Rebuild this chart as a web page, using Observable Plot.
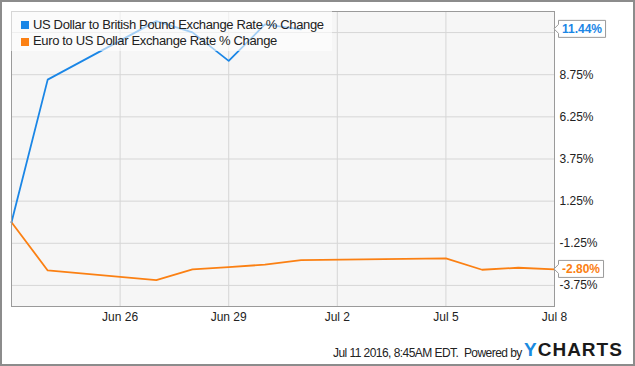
<!DOCTYPE html>
<html>
<head>
<meta charset="utf-8">
<script src="https://cdn.jsdelivr.net/npm/d3@7"></script>
<script src="https://cdn.jsdelivr.net/npm/@observablehq/plot@0.6"></script>
<style>
  html, body { margin: 0; padding: 0; background: #fff; }
  #wrap { position: relative; width: 635px; height: 366px; overflow: hidden; font-family: "Liberation Sans", Arial, sans-serif; }
  #outer { position: absolute; left: 0; top: 0; width: 635px; height: 366px; box-sizing: border-box; border: 2px solid #8c8c8c; pointer-events: none; }
  #legend { position: absolute; left: 11px; top: 11px; width: 321px; height: 40px; background: rgba(255,255,255,0.6); }
  .sw { position: absolute; width: 8px; height: 8px; }
  .lt { position: absolute; font-size: 13px; line-height: 15px; color: #222; white-space: nowrap; letter-spacing: -0.35px; }
  #footer { position: absolute; left: 333px; top: 346px; font-size: 12px; line-height: 15px; color: #222; white-space: pre; letter-spacing: -0.55px; }
  #logo { position: absolute; left: 524px; top: 339px; font-size: 19px; line-height: 22px; font-weight: bold; letter-spacing: 1px; color: #1a1a1a; white-space: nowrap; }
</style>
</head>
<body>
<div id="wrap"></div>
<script>
// ---- data ----
const seriesNames = ["US Dollar to British Pound Exchange Rate % Change", "Euro to US Dollar Exchange Rate % Change"];
const seriesColors = ["#1a86e6", "#fb8013"];
const gbpDates = ["2016-06-23", "2016-06-24", "2016-06-27", "2016-06-28", "2016-06-29", "2016-06-30", "2016-07-01"];
const gbpValues = [0, 8.46, 11.93, 11.26, 9.57, 11.73, 11.44];
const eurDates = ["2016-06-23", "2016-06-24", "2016-06-27", "2016-06-28", "2016-06-29", "2016-06-30", "2016-07-01", "2016-07-05", "2016-07-06", "2016-07-07", "2016-07-08"];
const eurValues = [0, -2.86, -3.43, -2.80, -2.66, -2.52, -2.25, -2.15, -2.82, -2.70, -2.80];
const yTicks = [-3.75, -1.25, 1.25, 3.75, 6.25, 8.75, 11.25];
const yLabelTicks = [-3.75, -1.25, 1.25, 3.75, 6.25, 8.75];
const xTickDates = ["2016-06-26", "2016-06-29", "2016-07-02", "2016-07-05", "2016-07-08"];
const xTickLabels = ["Jun 26", "Jun 29", "Jul 2", "Jul 5", "Jul 8"];
const xDomain = ["2016-06-23", "2016-07-08"];
const yDomain = [-5, 12.5];
const footerText = "Jul 11 2016, 8:45AM EDT.  Powered by";

const gbp = gbpDates.map((d, i) => ({date: new Date(d), value: gbpValues[i], series: seriesNames[0]}));
const eur = eurDates.map((d, i) => ({date: new Date(d), value: eurValues[i], series: seriesNames[1]}));
const xTicks = xTickDates.map(d => new Date(d));
const labelOf = new Map(xTicks.map((d, i) => [+d, xTickLabels[i]]));

const chart = Plot.plot({
  width: 635,
  height: 366,
  marginLeft: 11,
  marginRight: 81,
  marginTop: 11,
  marginBottom: 60,
  style: {fontFamily: "Liberation Sans, Arial, sans-serif", fontSize: "12px", color: "#222", background: "transparent"},
  x: {type: "utc", domain: xDomain.map(d => new Date(d))},
  y: {domain: yDomain},
  marks: [
    Plot.frame({fill: "#f6f6f6", stroke: null}),
    Plot.gridX(xTicks, {stroke: "#d6d6d6", strokeOpacity: 1}),
    Plot.gridY(yTicks, {stroke: "#d6d6d6", strokeOpacity: 1}),
    Plot.line(eur, {x: "date", y: "value", stroke: seriesColors[1], strokeWidth: 1.8}),
    Plot.line(gbp, {x: "date", y: "value", stroke: seriesColors[0], strokeWidth: 1.8}),
    Plot.frame({stroke: "#9a9a9a"}),
    Plot.axisY(yLabelTicks, {anchor: "right", tickSize: 0, tickPadding: 5, tickFormat: d => d.toFixed(2) + "%", label: null, fill: "#222"}),
    Plot.axisX(xTicks, {anchor: "bottom", tickSize: 0, tickPadding: 6, tickFormat: d => labelOf.get(+d), label: null, fill: "#222"})
  ]
});

const wrap = document.getElementById("wrap");
wrap.appendChild(chart);

// value callouts through the chart's scales
const xs = chart.scale("x"), ys = chart.scale("y");
const svg = d3.select(chart);
const right = xs.apply(new Date(xDomain[1]));
[[gbpValues[gbpValues.length - 1], seriesColors[0]], [eurValues[eurValues.length - 1], seriesColors[1]]].forEach(([v, c]) => {
  const y = ys.apply(v);
  const g = svg.append("g").attr("text-anchor", "start");
  const path = g.append("path").attr("fill", "#fff").attr("stroke", "#9a9a9a").attr("stroke-width", 1);
  const t = g.append("text").attr("x", right + 8).attr("y", y + 4.5)
    .attr("text-anchor", "start")
    .attr("fill", c).attr("font-weight", "bold").attr("font-size", 12)
    .attr("font-family", "Liberation Sans, Arial, sans-serif")
    .text(v.toFixed(2) + "%");
  const w = t.node().getComputedTextLength();
  const x0 = right + 4.5, x1 = right + 4.5 + w + 7, h = 8.5;
  path.attr("d", `M${right},${y}L${x0},${y - 4.5}L${x0},${y - h}L${x1},${y - h}L${x1},${y + h}L${x0},${y + h}L${x0},${y + 4.5}Z`);
});

// legend overlaid in plot (semi-transparent like the original)
const legend = document.createElement("div");
legend.id = "legend";
seriesNames.forEach((name, i) => {
  const sw = document.createElement("div");
  sw.className = "sw";
  sw.style.left = "10px";
  sw.style.top = (10 + i * 16.7) + "px";
  sw.style.background = seriesColors[i];
  legend.appendChild(sw);
  const lt = document.createElement("div");
  lt.className = "lt";
  lt.style.left = "22px";
  lt.style.top = (5.5 + i * 16.7) + "px";
  lt.textContent = name;
  legend.appendChild(lt);
});
wrap.appendChild(legend);

const footer = document.createElement("div");
footer.id = "footer";
footer.textContent = footerText;
wrap.appendChild(footer);

const logo = document.createElement("div");
logo.id = "logo";
logo.innerHTML = '<span style="color:#1a8be0">Y</span>CHARTS';
wrap.appendChild(logo);

const outer = document.createElement("div");
outer.id = "outer";
wrap.appendChild(outer);
</script>
</body>
</html>
